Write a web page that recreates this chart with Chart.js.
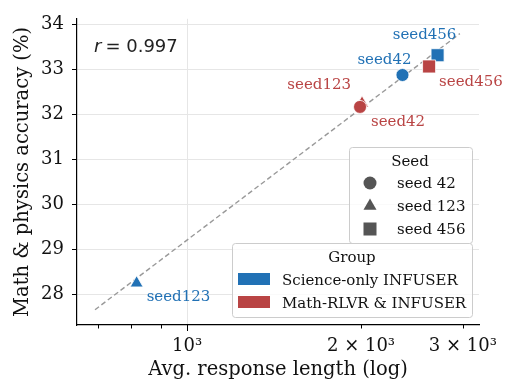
<!DOCTYPE html>
<html>
<head>
<meta charset="utf-8">
<script src="https://cdn.jsdelivr.net/npm/chart.js@4.4.1/dist/chart.umd.min.js"></script>
<style>
    html, body { margin: 0; padding: 0; background: #fff; }
</style>
</head>
<body>
<canvas id="grafico" width="505" height="383"></canvas>
<script>
// dados (ordem: seed123, seed42, seed456)
const sementes = ["seed123", "seed42", "seed456"];
const estilos = ["triangle", "circle", "rect"];
const grupos = ["Science-only INFUSER", "Math-RLVR & INFUSER"];
const comprimentoCiencia = [818, 2359, 2713];
const acuraciaCiencia = [28.25, 32.88, 33.32];
const comprimentoMath = [2008, 1992, 2623];
const acuraciaMath = [32.25, 32.17, 33.07];
const tendenciaX = [693, 2965];
const tendenciaY = [27.66, 33.80];
const legendaSementes = ["seed 42", "seed 123", "seed 456"];
const estilosLegenda = ["circle", "triangle", "rect"];
const ticksX = [700, 800, 900, 1000, 2000, 3000];
const rotulosX = { 1000: "10³", 2000: "2 × 10³", 3000: "3 × 10³" };
const ticksY = [28, 29, 30, 31, 32, 33, 34];
const correlacao = "0.997";

const AZUL = "#2171b5";
const VERMELHO = "#b94444";
const SERIF = "'DejaVu Serif', serif";

// deslocamento dos rotulos de cada ponto [dx, dy, alinhamento]
const offsetsCiencia = [[10, 18, "left"], [-18, -11, "center"], [-13, -16, "center"]];
const offsetsMath = [[-11, -14, "right"], [11, 19, "left"], [10, 20, "left"]];

function pontos(xs, ys) {
    return xs.map((x, i) => ({ x: x, y: ys[i] }));
}

function raios(lista) {
    return lista.map(s => s === "rect" ? 9.2 : (s === "triangle" ? 7.5 : 6.5));
}

const rotulosPontos = {
    id: "rotulosPontos",
    afterDatasetsDraw(chart) {
        const ctx = chart.ctx;
        ctx.save();
        ctx.font = "15px " + SERIF;
        ctx.textBaseline = "alphabetic";
        [[1, offsetsCiencia, AZUL], [2, offsetsMath, VERMELHO]].forEach(([idx, offs, cor]) => {
            const meta = chart.getDatasetMeta(idx);
            meta.data.forEach((p, j) => {
                ctx.fillStyle = cor;
                ctx.textAlign = offs[j][2];
                ctx.fillText(sementes[j], p.x + offs[j][0], p.y + offs[j][1]);
            });
        });
        ctx.restore();
    }
};

const extras = {
    id: "extras",
    afterDraw(chart) {
        const ctx = chart.ctx;
        const area = chart.chartArea;
        const sx = chart.scales.x;
        ctx.save();

        // marcas do eixo x (maiores e menores)
        ctx.strokeStyle = "#000";
        ctx.lineWidth = 1;
        ticksX.forEach(v => {
            const px = Math.round(sx.getPixelForValue(v)) + 0.5;
            const len = rotulosX[v] === "10³" ? 6 : 3.5;
            ctx.beginPath();
            ctx.moveTo(px, area.bottom);
            ctx.lineTo(px, area.bottom + len);
            ctx.stroke();
        });

        // r = 0.997
        ctx.fillStyle = "#222";
        ctx.textBaseline = "alphabetic";
        ctx.textAlign = "left";
        ctx.font = "italic 18px 'DejaVu Sans'";
        ctx.fillText("r", 94, 52);
        let w = ctx.measureText("r").width;
        ctx.font = "18px 'DejaVu Sans'";
        ctx.fillText("= " + correlacao, 94 + w + 4, 52);

        // caixa de legenda
        function caixa(x, y, w, h) {
            ctx.beginPath();
            ctx.roundRect(x + 0.5, y + 0.5, w, h, 3);
            ctx.fillStyle = "rgba(255,255,255,0.8)";
            ctx.fill();
            ctx.strokeStyle = "#cccccc";
            ctx.lineWidth = 1;
            ctx.stroke();
        }

        // legenda Seed
        caixa(349, 147, 123, 96);
        ctx.fillStyle = "#111";
        ctx.font = "15px " + SERIF;
        ctx.textAlign = "center";
        ctx.fillText("Seed", 410, 166);
        ctx.textAlign = "left";
        legendaSementes.forEach((txt, i) => {
            const yb = 188 + i * 23;
            ctx.fillStyle = "#555555";
            Chart.helpers.drawPoint(ctx, {
                pointStyle: estilosLegenda[i],
                radius: raios([estilosLegenda[i]])[0],
                borderWidth: 0
            }, 370, yb - 5);
            ctx.fillStyle = "#111";
            ctx.fillText(txt, 397, yb);
        });

        // legenda Group
        caixa(232, 243, 240, 74);
        ctx.fillStyle = "#111";
        ctx.textAlign = "center";
        ctx.fillText("Group", 352, 262);
        ctx.textAlign = "left";
        [AZUL, VERMELHO].forEach((cor, i) => {
            ctx.fillStyle = cor;
            ctx.fillRect(238, 273 + i * 23, 32, 12);
            ctx.fillStyle = "#111";
            ctx.fillText(grupos[i], 282, 285 + i * 23);
        });

        ctx.restore();
    }
};

let grafico = new Chart(document.getElementById("grafico"), {
    type: "scatter",
    data: {
        datasets: [
            {
                type: "line",
                label: "fit",
                data: pontos(tendenciaX, tendenciaY),
                borderColor: "#999999",
                borderWidth: 1.4,
                borderDash: [5, 3],
                pointRadius: 0,
                fill: false,
                order: 3
            },
            {
                label: grupos[0],
                data: pontos(comprimentoCiencia, acuraciaCiencia),
                pointStyle: estilos,
                pointRadius: raios(estilos),
                backgroundColor: AZUL,
                borderColor: "#ffffff",
                borderWidth: 0.8,
                order: 2
            },
            {
                label: grupos[1],
                data: pontos(comprimentoMath, acuraciaMath),
                pointStyle: estilos,
                pointRadius: raios(estilos),
                backgroundColor: VERMELHO,
                borderColor: "#ffffff",
                borderWidth: 0.8,
                order: 1
            }
        ]
    },
    options: {
        responsive: false,
        animation: false,
        events: [],
        layout: { padding: { left: 0, top: 15, right: 26, bottom: 0 } },
        plugins: {
            legend: { display: false },
            tooltip: { enabled: false }
        },
        scales: {
            x: {
                type: "logarithmic",
                min: 645,
                max: 3200,
                afterBuildTicks: function (s) {
                    s.ticks = ticksX.map(v => ({ value: v }));
                },
                afterFit: function (s) {
                    s.height = 58;
                    s.paddingLeft = 0;
                    s.paddingRight = 0;
                },
                ticks: {
                    autoSkip: false,
                    maxRotation: 0,
                    padding: 11,
                    color: "#111",
                    font: { family: SERIF, size: 18 },
                    callback: function (value) {
                        return rotulosX[value] || "";
                    }
                },
                grid: {
                    drawTicks: false,
                    color: function (c) {
                        return c.tick && c.tick.value === 1000 ? "#e6e6e6" : "rgba(0,0,0,0)";
                    }
                },
                border: { color: "#000", width: 1.2 },
                title: {
                    display: true,
                    text: "Avg. response length (log)",
                    color: "#111",
                    font: { family: SERIF, size: 19.5 },
                    padding: { top: 0, bottom: 1 }
                }
            },
            y: {
                type: "linear",
                min: 27.32,
                max: 34.13,
                afterBuildTicks: function (s) {
                    s.ticks = ticksY.map(v => ({ value: v }));
                },
                afterFit: function (s) { s.width = 77; },
                ticks: {
                    padding: 8,
                    color: "#111",
                    font: { family: SERIF, size: 18 }
                },
                grid: {
                    color: "#e6e6e6",
                    tickColor: "#000",
                    tickLength: 5
                },
                border: { color: "#000", width: 1.2 },
                title: {
                    display: true,
                    text: "Math & physics accuracy (%)",
                    color: "#111",
                    font: { family: SERIF, size: 19.5 },
                    padding: { top: 11, bottom: 0 }
                }
            }
        }
    },
    plugins: [rotulosPontos, extras]
});
</script>
</body>
</html>
